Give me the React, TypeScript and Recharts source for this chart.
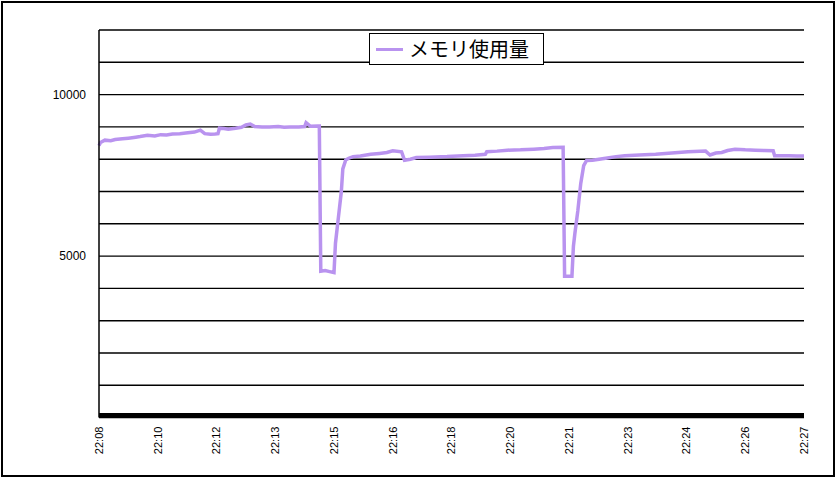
import { CartesianGrid, Legend, Line, LineChart, XAxis, YAxis } from "recharts";

// sample number (480 samples across the time axis) and memory usage at that sample
const sampleIndex = [
  0, 1, 4, 8, 11, 16, 20, 25, 28, 33, 38, 42, 46, 50, 55, 59, 65, 69, 72, 76, 79, 81, 82, 85, 88, 93, 97, 100,
  103, 106, 111, 116, 122, 126, 130, 136, 140, 141, 144, 149, 150, 151, 154, 157, 160, 161, 163, 165, 166, 168,
  170, 173, 178, 185, 191, 196, 200, 206, 208, 212, 216, 225, 237, 248, 256, 263, 264, 271, 278, 287, 296, 303,
  309, 316, 317, 322, 323, 324, 326, 328, 330, 332, 336, 345, 352, 358, 368, 379, 390, 401, 413, 416, 420, 424,
  428, 433, 440, 447, 453, 459, 460, 465, 470, 475, 480,
];
const memoryUsage = [
  8420, 8520, 8590, 8570, 8610, 8630, 8650, 8680, 8700, 8740, 8720, 8760, 8750, 8780, 8790, 8810, 8840, 8900,
  8790, 8770, 8780, 8790, 8960, 8950, 8930, 8960, 8990, 9060, 9090, 9010, 9000, 9000, 9010, 8990, 9000, 9000,
  9010, 9130, 9020, 9030, 9030, 4530, 4550, 4520, 4490, 5400, 6200, 7000, 7700, 7980, 8030, 8080, 8100, 8150,
  8180, 8210, 8260, 8230, 7970, 8000, 8050, 8060, 8080, 8110, 8120, 8150, 8230, 8250, 8280, 8290, 8310, 8330,
  8360, 8370, 4380, 4380, 5300, 5700, 6400, 7250, 7800, 7960, 7970, 8030, 8080, 8110, 8130, 8150, 8190, 8230,
  8250, 8130, 8190, 8210, 8270, 8310, 8290, 8280, 8270, 8260, 8110, 8110, 8110, 8100, 8100,
];

const xTickSamples = [0, 40, 80, 120, 160, 200, 240, 280, 320, 360, 400, 440, 480];
const xTickLabels = [
  "22:08", "22:10", "22:12", "22:13", "22:15", "22:16", "22:18", "22:20", "22:21", "22:23", "22:24", "22:26", "22:27",
];
const yTicks = [0, 1000, 2000, 3000, 4000, 5000, 6000, 7000, 8000, 9000, 10000, 11000, 12000];
const yLabeled = [5000, 10000];

const seriesName = "メモリ使用量";
const lineColor = "#b993ef";

const data = sampleIndex.map((s, i) => ({ s, memory: memoryUsage[i] }));

const XTick = ({ x, y, payload }: any) => {
  const label = xTickLabels[xTickSamples.indexOf(payload.value)];
  return (
    <text
      x={x}
      y={y}
      transform={`rotate(-90 ${x} ${y})`}
      textAnchor="end"
      dy="0.36em"
      fontSize={11}
      fontFamily='"Liberation Sans", Arial, sans-serif'
      fill="#000"
    >
      {label}
    </text>
  );
};

const LegendBox = ({ payload }: any) => (
  <div
    style={{
      width: 173,
      height: 30,
      border: "1.5px solid #000",
      background: "#fff",
      display: "flex",
      alignItems: "center",
      boxSizing: "content-box",
    }}
  >
    {(payload ?? []).map((entry: any) => (
      <div key={entry.value} style={{ display: "flex", alignItems: "center" }}>
        <span style={{ display: "inline-block", width: 27, height: 3, marginLeft: 6, background: lineColor }} />
        <span
          style={{
            marginLeft: 6,
            fontSize: 20,
            lineHeight: "20px",
            fontFamily: '"Noto Sans CJK JP", sans-serif',
            color: "#000",
          }}
        >
          {entry.value}
        </span>
      </div>
    ))}
  </div>
);

export default function App() {
  return (
    <div style={{ position: "absolute", left: 0, top: 0, width: 835, height: 477, background: "#fff" }}>
      <LineChart width={835} height={477} data={data} margin={{ top: 30, right: 31, bottom: 19.4, left: 0 }}>
        <CartesianGrid vertical={false} stroke="#000" strokeWidth={1.4} />
        <XAxis
          dataKey="s"
          type="number"
          domain={[0, 480]}
          ticks={xTickSamples}
          interval={0}
          height={40}
          tickSize={0}
          tickMargin={9}
          tick={<XTick />}
          axisLine={{ stroke: "#000", strokeWidth: 4, transform: "translate(0 -2.5)" }}
          tickLine={false}
        />
        <YAxis
          domain={[0, 12000]}
          ticks={yTicks}
          interval={0}
          width={99}
          tickSize={0}
          tickMargin={13}
          tickLine={false}
          axisLine={{ stroke: "#000", strokeWidth: 1.5 }}
          tick={{ fontSize: 12, fill: "#000", fontFamily: '"Liberation Sans", Arial, sans-serif' }}
          tickFormatter={(v: number) => (yLabeled.includes(v) ? String(v) : "")}
        />
        <Legend
          layout="vertical"
          align="center"
          verticalAlign="middle"
          content={<LegendBox />}
          wrapperStyle={{ position: "absolute", left: 369, top: 33, width: "auto", height: "auto" }}
        />
        <Line
          type="linear"
          dataKey="memory"
          name={seriesName}
          stroke={lineColor}
          strokeWidth={3.5}
          dot={false}
          activeDot={false}
          isAnimationActive={false}
        />
      </LineChart>
      <div
        style={{
          position: "absolute",
          left: 1,
          top: 1,
          width: 830,
          height: 472,
          border: "2px solid #000",
          pointerEvents: "none",
        }}
      />
    </div>
  );
}
